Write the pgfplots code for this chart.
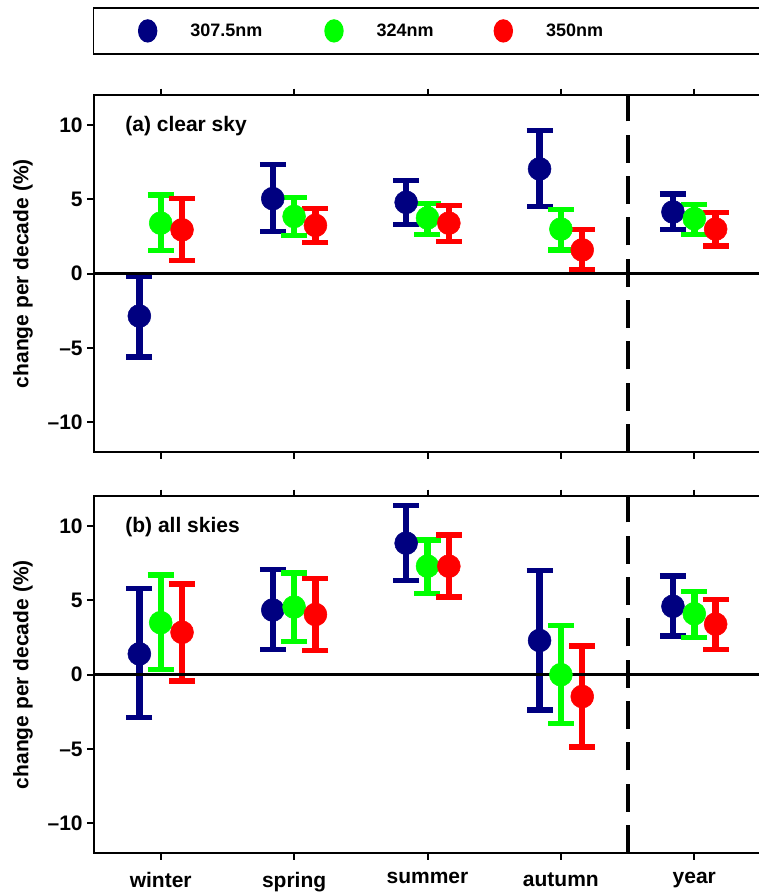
\documentclass[border=0pt]{standalone}
\usepackage{fontspec}
\setmainfont{Liberation Sans}
\usepackage{pgfplots}
\pgfplotsset{compat=1.18}
\usepackage{pgfplotstable}

\definecolor{navyc}{RGB}{0,0,128}
\definecolor{greenc}{RGB}{0,255,0}
\definecolor{redc}{RGB}{255,0,0}
\newcommand{\lab}{\fontsize{15.75}{18}\selectfont\bfseries}
\newcommand{\leg}{\fontsize{13.5}{16}\selectfont\bfseries}

% columns: x (category + offset), value, error plus, error minus
\pgfplotstableread{
x y ep em
0.84 -2.85 2.65 2.75
1.84 5.05 2.30 2.20
2.84 4.80 1.45 1.50
3.84 7.05 2.60 2.55
4.84 4.15 1.20 1.20
}\clearblue
\pgfplotstableread{
x y ep em
1 3.40 1.90 1.85
2 3.85 1.27 1.27
3 3.75 0.95 1.10
4 3.00 1.30 1.40
5 3.70 0.97 1.05
}\cleargreen
\pgfplotstableread{
x y ep em
1.16 2.95 2.10 2.05
2.16 3.25 1.12 1.17
3.16 3.40 1.20 1.25
4.16 1.60 1.37 1.30
5.16 3.00 1.10 1.13
}\clearred
\pgfplotstableread{
x y ep em
0.84 1.40 4.40 4.30
1.84 4.35 2.73 2.66
2.84 8.85 2.52 2.52
3.84 2.30 4.72 4.67
4.84 4.60 2.05 2.00
}\allblue
\pgfplotstableread{
x y ep em
1 3.50 3.20 3.15
2 4.55 2.30 2.30
3 7.30 1.76 1.84
4 0.00 3.30 3.30
5 4.10 1.50 1.62
}\allgreen
\pgfplotstableread{
x y ep em
1.16 2.85 3.25 3.27
2.16 4.05 2.42 2.41
3.16 7.30 2.10 2.07
4.16 -1.47 3.40 3.40
5.16 3.40 1.67 1.70
}\allred

\pgfplotsset{
  panel/.style={
    scale only axis, width=500.25pt, height=267.5pt,
    xmin=0.5, xmax=5.5, ymin=-12, ymax=12,
    xtick={1,2,3,4,5}, ytick={-10,-5,0,5,10},
    yticklabels={\textendash10,\textendash5,0,5,10},
    ytick pos=left, tick align=outside, major tick length=5pt,
    axis line style={line width=1.5pt},
    every tick/.style={black, line width=1.5pt},
    tick label style={font=\lab},
    xticklabel style={yshift=-6pt},
    ylabel={change per decade (\%)},
    every axis y label/.style={at={(axis description cs:-0.1064,0.5)}, rotate=90,
      anchor=center, font=\lab},
  },
  ser/.style={only marks, mark=*, mark size=8.6pt, color=#1, forget plot,
    mark options={solid, line width=0.4pt},
    error bars/y dir=both, error bars/y explicit,
    error bars/error bar style={line width=4.8pt, #1},
    error bars/error mark options={rotate=90, mark size=9.75pt, line width=4pt, #1}},
  zero/.style={black, line width=2.25pt, forget plot},
  split/.style={black, line width=3pt, dash pattern=on 21pt off 10pt, forget plot},
}

\begin{document}
\begin{tikzpicture}
\begin{axis}[panel, at={(70.5pt,-339pt)}, anchor=south west,
    xticklabels={},
    legend columns=3,
    legend cell align=left,
    legend style={at={(axis description cs:-0.0015,1.247)}, anchor=north west,
      draw=black, line width=1pt, inner sep=0pt, column sep=0pt,
      font=\leg, cells={anchor=west}},
    legend image code/.code={
      \path[draw=none, fill=none] (-40.5pt,-17.25pt) rectangle (30pt,17.25pt);
      \draw[#1] plot[only marks] coordinates {(0pt,0pt)};
    }]
\addlegendimage{navyc, mark=*, mark size=8.25pt, mark options={xscale=0.82}}
\addlegendentry[text width=65.25pt]{307.5nm}
\addlegendimage{greenc, mark=*, mark size=8.25pt, mark options={xscale=0.82}}
\addlegendentry[text width=52.5pt]{324nm}
\addlegendimage{redc, mark=*, mark size=8.25pt, mark options={xscale=0.82}}
\addlegendentry[text width=187.5pt]{350nm}
\addplot[ser=navyc] table[x=x, y=y, y error plus=ep, y error minus=em] {\clearblue};
\addplot[ser=greenc] table[x=x, y=y, y error plus=ep, y error minus=em] {\cleargreen};
\addplot[ser=redc] table[x=x, y=y, y error plus=ep, y error minus=em] {\clearred};
\addplot[zero] coordinates {(0.5,0) (5.5,0)};
\addplot[split] coordinates {(4.5,-12) (4.5,12)};
\node[font=\lab, anchor=west] at (axis cs:0.7,9.9) {(a) clear sky};
\end{axis}

\begin{axis}[panel, at={(70.5pt,-639.75pt)}, anchor=south west,
    xticklabels={winter,spring,summer,autumn,year}]
\addplot[ser=navyc] table[x=x, y=y, y error plus=ep, y error minus=em] {\allblue};
\addplot[ser=greenc] table[x=x, y=y, y error plus=ep, y error minus=em] {\allgreen};
\addplot[ser=redc] table[x=x, y=y, y error plus=ep, y error minus=em] {\allred};
\addplot[zero] coordinates {(0.5,0) (5.5,0)};
\addplot[split] coordinates {(4.5,-12) (4.5,12)};
\node[font=\lab, anchor=west] at (axis cs:0.7,9.9) {(b) all skies};
\end{axis}
\pgfresetboundingbox
\path[use as bounding box] (0pt,0pt) rectangle (568.5pt,-672pt);
\end{tikzpicture}
\end{document}
